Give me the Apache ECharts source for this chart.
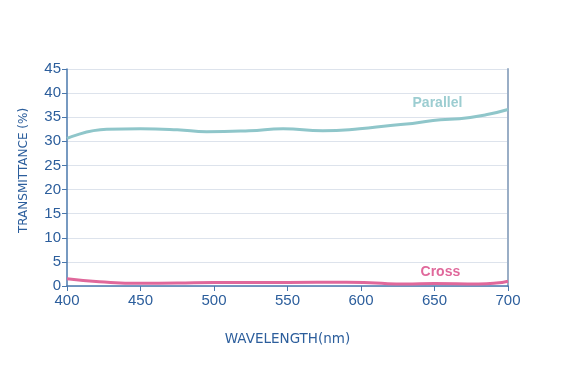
<!DOCTYPE html>
<html>
<head>
<meta charset="utf-8">
<script src="https://cdn.jsdelivr.net/npm/echarts@6/dist/echarts.min.js"></script>
<style>
  html, body { margin: 0; padding: 0; background: #fff; }
  #main { width: 561px; height: 376px; }
</style>
</head>
<body>
<div id="main"></div>
<script>
// 数据
var parallelData = [
  [400, 30.6], [427, 32.5], [450, 32.6], [475, 32.4], [495, 32.0], [524, 32.2],
  [547, 32.6], [574, 32.2], [599, 32.6], [620, 33.3], [635, 33.7], [654, 34.5],
  [667, 34.7], [685, 35.5], [700, 36.6]
];
var crossData = [
  [400, 1.5], [422, 0.9], [450, 0.55], [475, 0.6], [500, 0.75], [550, 0.75],
  [590, 0.8], [610, 0.6], [630, 0.4], [650, 0.5], [680, 0.4], [692, 0.6], [700, 1.0]
];
var xTicks = [400, 450, 500, 550, 600, 650, 700];

var textColor = '#2c5e9c';
var chart = echarts.init(document.getElementById('main'));

var option = {
  animation: false,
  grid: { left: 67, right: 53, top: 69, bottom: 90 },
  xAxis: {
    type: 'value',
    min: 400,
    max: 700,
    interval: 50,
    name: 'WAVELENGTH(nm)',
    nameLocation: 'middle',
    nameGap: 46,
    nameTextStyle: { color: textColor, fontSize: 13.5, fontFamily: 'DejaVu Sans' },
    axisLine: { lineStyle: { color: '#4a78ad', width: 1.5 } },
    axisTick: { show: true, length: 5, lineStyle: { color: '#4a78ad' } },
    axisLabel: { color: textColor, fontSize: 15, fontFamily: 'Liberation Sans', margin: 7 },
    splitLine: { show: false }
  },
  yAxis: [{
    type: 'value',
    min: 0,
    max: 45,
    interval: 5,
    name: 'TRANSMITTANCE (%)',
    nameLocation: 'middle',
    nameGap: 37,
    nameTextStyle: { color: textColor, fontSize: 12, fontFamily: 'DejaVu Sans', padding: [0, 0, 0, 14] },
    axisLine: { show: true, lineStyle: { color: '#4a78ad', width: 1.5 } },
    axisTick: { show: true, length: 5, lineStyle: { color: '#4a78ad' } },
    axisLabel: { color: textColor, fontSize: 15, fontFamily: 'Liberation Sans', margin: 6 },
    splitLine: { show: true, lineStyle: { color: '#dde3ec', width: 1 } }
  }, {
    type: 'value',
    position: 'right',
    min: 0,
    max: 45,
    axisLine: { show: true, lineStyle: { color: '#9aaec6', width: 2 } },
    axisTick: { show: false },
    axisLabel: { show: false },
    splitLine: { show: false }
  }],
  series: [
    {
      name: 'Parallel',
      type: 'line',
      smooth: true,
      symbol: 'none',
      data: parallelData,
      lineStyle: { color: '#8fc6ca', width: 3 },
      markPoint: {
        symbol: 'circle',
        symbolSize: 0,
        data: [{ coord: [652, 38], value: 'Parallel' }],
        label: { show: true, formatter: 'Parallel', color: '#9ccdd1', fontSize: 14, fontWeight: 'bold', fontFamily: 'Liberation Sans' }
      }
    },
    {
      name: 'Cross',
      type: 'line',
      smooth: true,
      symbol: 'none',
      data: crossData,
      lineStyle: { color: '#e0689b', width: 3 },
      markPoint: {
        symbol: 'circle',
        symbolSize: 0,
        data: [{ coord: [654, 2.9], value: 'Cross' }],
        label: { show: true, formatter: 'Cross', color: '#e0689b', fontSize: 14, fontWeight: 'bold', fontFamily: 'Liberation Sans' }
      }
    }
  ]
};
chart.setOption(option);
</script>
</body>
</html>
